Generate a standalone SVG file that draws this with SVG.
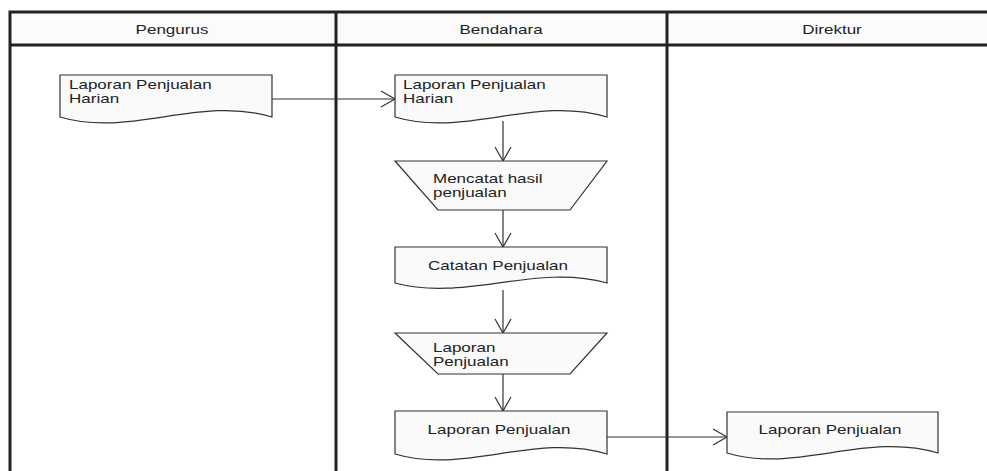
<svg xmlns="http://www.w3.org/2000/svg" width="987" height="471" viewBox="0 0 987 471">
<defs>
<marker id="arr" markerUnits="userSpaceOnUse" markerWidth="20" markerHeight="20" viewBox="-16 -10 20 20" refX="0" refY="0" orient="auto">
<path d="M-14,-8 L0,0 L-14,8" fill="none" stroke="#333" stroke-width="1.2"/>
</marker>
</defs>
<style>
.lane{fill:none;stroke:#222;stroke-width:3}
.hdr{fill:#fbfbfb}
.shape{fill:#fafafa;stroke:#333;stroke-width:1.2}
.t{font-family:"Liberation Sans",Arial,sans-serif;font-size:13px;fill:#222}
.c{text-anchor:middle}
.conn{fill:none;stroke:#333;stroke-width:1.2;marker-end:url(#arr)}
</style>
<rect width="987" height="471" fill="#fff"/>
<g id="lanes">
<rect class="hdr" x="10" y="12" width="990" height="33"/>
<path class="lane" d="M10,471 V12 H1000 M10,45 H1000 M336,12 V471 M667,12 V471"/>
<text class="t c" transform="translate(172,34) scale(1.31,1)">Pengurus</text>
<text class="t c" transform="translate(501,34) scale(1.31,1)">Bendahara</text>
<text class="t c" transform="translate(832,34) scale(1.31,1)">Direktur</text>
</g>
<g id="connectors">
<path class="conn" d="M272,99 H395"/>
<path class="conn" d="M503,121 V161"/>
<path class="conn" d="M503,210 V247"/>
<path class="conn" d="M503,290 V333"/>
<path class="conn" d="M503,374 V411"/>
<path class="conn" d="M607,437 H727"/>
</g>
<g id="doc-pengurus">
<path class="shape" d="M60,75 H272 V117 C200,95 130,138 60,117 Z"/>
<text class="t" transform="translate(69,89) scale(1.31,1)">Laporan Penjualan</text>
<text class="t" transform="translate(69,103) scale(1.31,1)">Harian</text>
</g>
<g id="doc-bendahara">
<path class="shape" d="M395,75 H607 V117 C535,95 465,138 395,117 Z"/>
<text class="t" transform="translate(403,89) scale(1.31,1)">Laporan Penjualan</text>
<text class="t" transform="translate(403,103) scale(1.31,1)">Harian</text>
</g>
<g id="proc-mencatat">
<path class="shape" d="M395,161 H607 L570,210 H438 Z"/>
<text class="t" transform="translate(433,183) scale(1.31,1)">Mencatat hasil</text>
<text class="t" transform="translate(433,197) scale(1.31,1)">penjualan</text>
</g>
<g id="doc-catatan">
<path class="shape" d="M395,247 H607 V283 C535,263 465,302 395,283 Z"/>
<text class="t c" transform="translate(498,270) scale(1.31,1)">Catatan Penjualan</text>
</g>
<g id="proc-laporan">
<path class="shape" d="M395,333 H607 L570,374 H438 Z"/>
<text class="t" transform="translate(433,352) scale(1.31,1)">Laporan</text>
<text class="t" transform="translate(433,366) scale(1.31,1)">Penjualan</text>
</g>
<g id="doc-laporan-bendahara">
<path class="shape" d="M395,411 H607 V454 C535,432 465,475 395,454 Z"/>
<text class="t c" transform="translate(499,434) scale(1.31,1)">Laporan Penjualan</text>
</g>
<g id="doc-laporan-direktur">
<path class="shape" d="M727,412 H938 V453 C866,431 796,474 727,453 Z"/>
<text class="t c" transform="translate(830,434) scale(1.31,1)">Laporan Penjualan</text>
</g>
</svg>
